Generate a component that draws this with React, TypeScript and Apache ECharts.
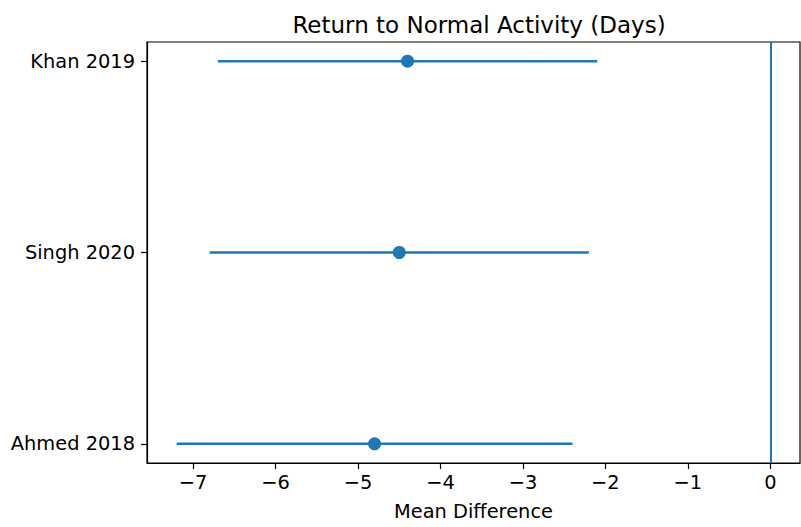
import React, { useEffect, useRef } from "react";
import * as echarts from "echarts";

const studies = ["Ahmed 2018", "Singh 2020", "Khan 2019"];
const means = [-4.8, -4.5, -4.4];
const lower = [-7.2, -6.8, -6.7];
const upper = [-2.4, -2.2, -2.1];
const xTicks = [-7, -6, -5, -4, -3, -2, -1, 0];
const yTicks = [0, 1, 2];

const BLUE = "#1f77b4";
const FONT = "DejaVu Sans";

export default function App() {
  const ref = useRef<HTMLDivElement>(null);
  useEffect(() => {
    document.body.style.margin = "0";
    const chart = echarts.init(ref.current!, null, { renderer: "svg" });
    const ciData = studies.map((_, i) => [lower[i], upper[i], i]);
    const ptData = studies.map((_, i) => [means[i], i]);
    chart.setOption({
      animation: false,
      backgroundColor: "#fff",
      title: {
        text: "Return to Normal Activity (Days)",
        left: 474,
        textAlign: "center",
        top: 8,
        textStyle: { fontFamily: FONT, fontSize: 23, fontWeight: "normal", color: "#000" },
      },
      grid: {
        left: 147,
        right: 1,
        top: 42,
        bottom: 64,
        containLabel: false,
        outerBoundsMode: "none",
        show: true,
        borderColor: "#000",
        borderWidth: 1.2,
        backgroundColor: "transparent",
      },
      xAxis: {
        type: "value",
        min: -7.56,
        max: 0.36,
        name: "Mean Difference",
        nameLocation: "middle",
        nameGap: 39,
        nameMoveOverlap: false,
        nameTextStyle: { fontFamily: FONT, fontSize: 19.4, color: "#000" },
        splitLine: { show: false },
        axisLine: { show: true, onZero: false, lineStyle: { color: "#000", width: 1.2 } },
        axisTick: { show: true, length: 6, customValues: xTicks, lineStyle: { color: "#000", width: 1.2 } },
        axisLabel: {
          customValues: xTicks,
          margin: 10,
          fontFamily: FONT,
          fontSize: 19.4,
          color: "#000",
          formatter: (v: number) => (v < 0 ? "\u2212" + Math.abs(v) : String(v)),
        },
      },
      yAxis: {
        type: "value",
        min: -0.1,
        max: 2.1,
        splitLine: { show: false },
        axisLine: { show: true, onZero: false, lineStyle: { color: "#000", width: 1.2 } },
        axisTick: { show: true, length: 6, customValues: yTicks, lineStyle: { color: "#000", width: 1.2 } },
        axisLabel: {
          customValues: yTicks,
          margin: 12,
          fontFamily: FONT,
          fontSize: 19.4,
          color: "#000",
          formatter: (v: number) => studies[Math.round(v)] ?? "",
        },
      },
      series: [
        {
          type: "custom",
          data: ciData,
          encode: { x: [0, 1], y: 2 },
          renderItem: (params: any, api: any) => {
            const p1 = api.coord([api.value(0), api.value(2)]);
            const p2 = api.coord([api.value(1), api.value(2)]);
            return {
              type: "line",
              shape: { x1: p1[0], y1: p1[1], x2: p2[0], y2: p2[1] },
              style: { stroke: BLUE, lineWidth: 2.5 },
            };
          },
          z: 2,
        },
        {
          type: "scatter",
          data: ptData,
          symbol: "circle",
          symbolSize: 13,
          itemStyle: { color: BLUE, opacity: 1 },
          z: 3,
          markLine: {
            silent: true,
            symbol: ["none", "none"],
            label: { show: false },
            lineStyle: { color: BLUE, width: 2, type: "solid" },
            data: [{ xAxis: 0 }],
          },
        },
      ],
    });
    return () => chart.dispose();
  }, []);
  return <div ref={ref} style={{ width: 801, height: 527 }} />;
}
